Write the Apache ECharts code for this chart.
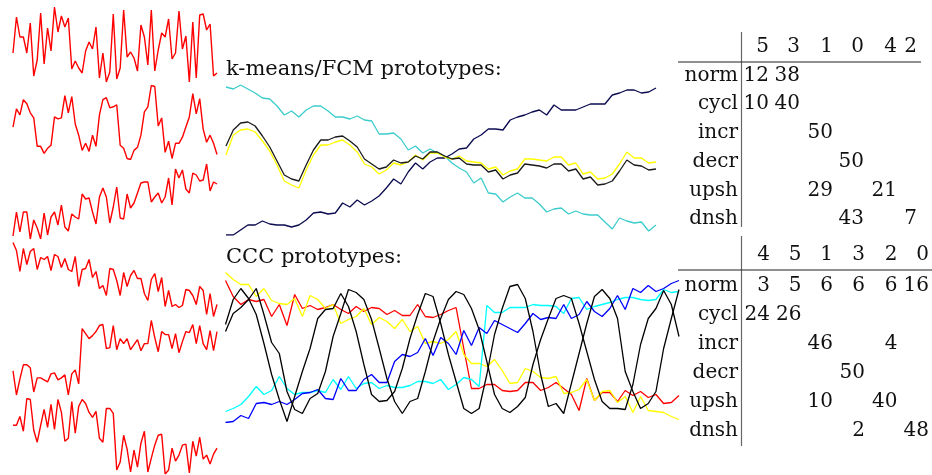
<!DOCTYPE html>
<html>
<head>
<meta charset="utf-8">
<script src="https://cdn.jsdelivr.net/npm/echarts@6.0.0/dist/echarts.min.js"></script>
<style>
  html, body { margin: 0; padding: 0; background: #fff; }
  #chart { width: 932px; height: 475px; }
</style>
</head>
<body>
<div id="chart"></div>
<script>
// ---- sample series (left column), one per class ----
const normSeries = [32,68,48,48,32,62,9,25,72,21, 57,34,78,53,69,58,67,16,24,17, 12,34,43,36,58,7,32,3,13,71, 6,17,75,28,33,27,14,60,48,20, 75,14,35,52,48,66,26,32,74,36, 49,3,63,7,70,71,55,61,9,12]
const cyclSeries = [33,51,45,60,56,47,42,14,14,7, 12,15,43,41,42,64,47,63,36,25, 10,17,9,25,14,45,60,62,52,53, 55,15,12,2,1,10,13,25,48,53, 74,73,34,42,8,19,2,17,17,23, 33,43,66,46,61,31,18,25,17,6]
const incrSeries = [4,28,8,28,28,1,20,12,1,27, 5,23,28,15,35,13,9,26,23,21, 46,41,42,28,16,43,52,43,17,33, 53,22,21,46,32,37,47,57,58,58, 38,43,47,37,43,62,35,71,62,70, 51,47,67,65,59,60,76,49,58,56]
const decrSeries = [76,68,47,70,54,67,70,49,61,59, 62,48,64,62,51,60,49,47,62,32, 49,50,59,41,47,30,33,23,50,49, 38,23,46,32,43,48,40,40,25,18, 39,45,27,41,12,28,12,14,11,13, 29,28,23,14,32,28,4,25,2,14]
const upshSeries = [26,2,18,32,32,29,5,19,19,17, 15,23,24,17,19,22,2,23,27,13, 68,63,58,61,65,71,72,48,49,71, 47,58,53,58,47,52,57,46,53,53, 76,59,45,65,62,62,48,63,44,55, 65,64,72,53,71,53,47,66,46,65]
const dnshSeries = [50,50,59,44,77,76,45,33,50,66, 48,71,46,76,63,34,37,74,42,69, 76,72,63,58,64,37,33,67,67,62, 5,13,40,26,3,25,8,32,44,3, 17,30,40,41,1,5,27,14,20,30, 31,2,34,19,38,16,20,11,21,27]

// ---- k-means/FCM prototypes ----
const kmCyan = [150,148,152,148,144,139,138,131,122,126, 120,127,131,131,126,120,120,118,121,117, 116,103,103,104,98,87,91,84,88,84, 81,74,69,65,54,59,44,43,35,40, 44,39,39,33,25,28,29,23,26,23, 22,22,15,8,19,16,14,15,6,12]
const kmBlack = [91,107,114,115,111,101,90,76,62,58, 56,72,87,97,97,100,101,96,90,78, 73,68,70,77,74,75,81,78,85,85, 81,78,79,73,72,72,65,67,58,62, 64,73,72,71,69,73,73,66,68,58, 60,52,53,56,66,77,72,71,67,68]
const kmYellow = [82,102,107,108,105,96,86,72,56,52, 49,67,82,92,92,95,97,92,85,73, 70,63,67,74,72,75,82,77,84,84, 80,78,81,76,75,74,68,70,62,66, 68,78,78,77,76,80,80,72,74,63, 65,58,59,63,73,85,79,79,74,75]
const kmNavy = [2,2,7,12,12,16,13,12,12,10, 12,17,24,25,23,24,34,30,37,32, 36,41,49,58,53,65,74,68,75,79, 79,83,88,89,98,102,108,108,107,117, 120,122,125,127,122,132,127,127,127,130, 133,133,133,142,144,147,147,144,145,149]

// ---- CCC prototypes ----
const cccRed = [151,135,127,132,130,132,115,127,106,137, 123,126,122,124,127,122,118,125,120,124, 123,117,121,116,116,127,115,114,117,121, 124,83,43,43,47,47,41,40,41,49, 49,41,44,49,43,37,21,53,31,39, 39,30,41,36,40,34,37,28,29,36]
const cccYellow = [159,152,147,147,135,143,131,128,127,133, 115,136,132,123,127,108,112,115,123,107, 114,110,103,112,100,105,88,90,88,92, 100,77,68,68,65,72,61,48,49,63, 60,54,53,55,38,39,42,52,31,40, 41,29,35,19,35,21,20,19,15,12]
const cccCyan = [20,23,27,35,45,37,41,55,43,37, 39,39,41,39,52,42,55,43,48,49, 43,46,44,44,46,50,50,48,52,42, 47,54,52,45,126,119,119,124,124,124, 127,126,126,125,118,133,134,122,125,127, 129,132,134,134,132,131,132,142,139,140]
const cccBlue = [9,10,16,13,28,29,27,30,27,32, 38,39,42,33,32,53,41,41,52,57, 49,49,70,77,75,79,93,76,94,88, 77,101,86,104,98,111,107,103,99,108, 118,112,114,113,127,113,117,130,120,115, 123,136,122,143,139,146,140,143,148,151]
const cccBlackA = [107,132,143,133,117,88,57,32,10,35, 60,83,113,122,123,138,125,100,67,37, 30,31,40,63,93,117,138,135,108,77, 50,23,18,23,57,97,123,145,147,133, 100,57,25,28,18,48,78,108,135,142, 133,113,60,40,23,28,40,83,113,142]
const cccBlackB = [100,118,124,132,143,117,89,78,40,22, 18,33,38,60,95,118,142,139,132,112, 83,53,30,18,30,33,60,90,113,132, 140,137,123,102,70,37,23,19,25,34, 67,92,113,133,136,133,108,80,52,30, 23,23,22,47,87,113,123,141,127,95]

// ---- tables: class x cluster counts ----
const rowLabels = ['norm', 'cycl', 'incr', 'decr', 'upsh', 'dnsh']
const kmHeader = ['5', '3', '1', '0', '4', '2']
const kmCounts = [
  [12, 38, null, null, null, null],
  [10, 40, null, null, null, null],
  [null, null, 50, null, null, null],
  [null, null, null, 50, null, null],
  [null, null, 29, null, 21, null],
  [null, null, null, 43, null, 7]
]
const cccHeader = ['4', '5', '1', '3', '2', '0']
const cccCounts = [
  [3, 5, 6, 6, 6, 16],
  [24, 26, null, null, null, null],
  [null, null, 46, null, 4, null],
  [null, null, null, 50, null, null],
  [null, null, 10, null, 40, null],
  [null, null, null, 2, null, 48]
]

const chart = echarts.init(document.getElementById('chart'))

const sparkRows = [normSeries, cyclSeries, incrSeries, decrSeries, upshSeries, dnshSeries]
const sparkTops = [7, 85.5, 164, 242.5, 320.5, 398.5]
const sparkHeights = [75, 74, 75, 74, 74.5, 75.5]

const grids = []
const xAxes = []
const yAxes = []
const series = []

function addPanel (rect, lines) {
  const idx = grids.length
  grids.push(Object.assign({ containLabel: false }, rect))
  xAxes.push({ gridIndex: idx, type: 'category', boundaryGap: false, show: false, data: lines[0].data.map((_, i) => i + 1) })
  yAxes.push({ gridIndex: idx, type: 'value', show: false, scale: true, min: 'dataMin', max: 'dataMax' })
  lines.forEach(l => {
    series.push({
      type: 'line', xAxisIndex: idx, yAxisIndex: idx, data: l.data,
      showSymbol: false, symbol: 'none', silent: true,
      lineStyle: { color: l.color, width: l.width || 1.3 }
    })
  })
}

sparkRows.forEach((d, k) => {
  addPanel({ left: 13, width: 204, top: sparkTops[k], height: sparkHeights[k] }, [{ data: d, color: '#ff0000', width: 1.4 }])
})

addPanel({ left: 226, width: 430, top: 85, height: 150 }, [
  { data: kmCyan, color: '#3ccccc' },
  { data: kmNavy, color: '#0b0b50' },
  { data: kmYellow, color: '#ffff00' },
  { data: kmBlack, color: '#1a1a1a' }
])

addPanel({ left: 225.5, width: 453.5, top: 272.5, height: 150 }, [
  { data: cccRed, color: '#ff0000' },
  { data: cccYellow, color: '#ffff00' },
  { data: cccCyan, color: '#00ffff' },
  { data: cccBlue, color: '#0000ff' },
  { data: cccBlackA, color: '#000000' },
  { data: cccBlackB, color: '#000000' }
])

// ---- text and table graphics ----
const graphics = []
function txt (s, x, y, align, size) {
  graphics.push({
    type: 'text', x: x, y: y, silent: true,
    style: {
      text: s, fill: '#111',
      font: (size || 20) + 'px "DejaVu Serif"',
      textAlign: align, textVerticalAlign: 'middle'
    }
  })
}
function rule (x1, y1, x2, y2, color) {
  graphics.push({ type: 'line', silent: true, shape: { x1, y1, x2, y2 }, style: { stroke: color, lineWidth: 1.2 } })
}

txt('k-means/FCM prototypes:', 226, 70, 'left', 21)
txt('CCC prototypes:', 226, 258, 'left', 21)

function table (header, counts, t) {
  header.forEach((h, j) => txt(h, t.cols[j], t.headY, 'right'))
  rowLabels.forEach((lab, i) => {
    const y = t.rowY + i * t.step
    txt(lab, t.labelX, y, 'right')
    counts[i].forEach((c, j) => { if (c !== null) txt(String(c), t.cols[j], y, 'right') })
  })
  rule(t.vx, t.vy1, t.vx, t.vy2, '#666')
  rule(678, t.hy, t.hx2, t.hy, '#222')
}

table(kmHeader, kmCounts, {
  cols: [769, 800, 833, 864, 897, 917], headY: 47, rowY: 75.5, step: 28.7,
  labelX: 738, vx: 741.5, vy1: 32, vy2: 227, hy: 62, hx2: 921
})
table(cccHeader, cccCounts, {
  cols: [770, 801.5, 833, 865, 897.5, 929], headY: 255, rowY: 285.5, step: 29.1,
  labelX: 738, vx: 741.5, vy1: 236, vy2: 446, hy: 270, hx2: 932
})

chart.setOption({
  animation: false,
  backgroundColor: '#ffffff',
  grid: grids,
  xAxis: xAxes,
  yAxis: yAxes,
  series: series,
  graphic: graphics
})
</script>
</body>
</html>
